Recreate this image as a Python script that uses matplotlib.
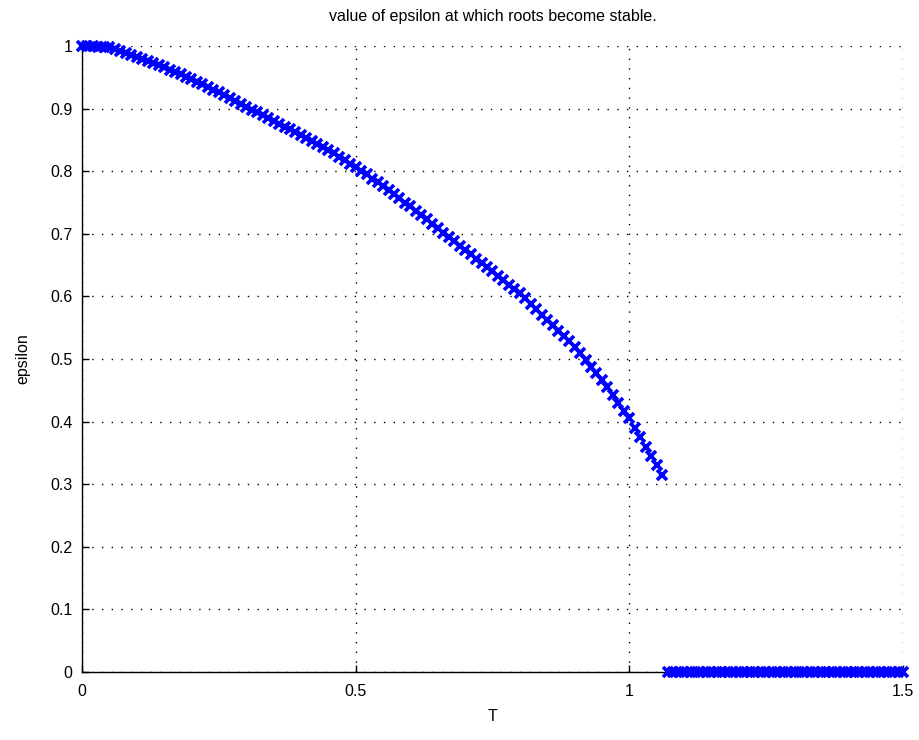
import numpy as np
import matplotlib
matplotlib.use("Agg")
import matplotlib.pyplot as plt

plt.rcParams['font.family'] = ['Liberation Sans', 'DejaVu Sans']

# Stable-root curve: T sampled every 0.01 from 0 to 1.06
T_curve = np.round(np.arange(0, 107) * 0.01, 2)
eps_curve = [
    1.000, 1.000, 1.000, 0.999, 0.999, 0.998, 0.995, 0.992, 0.989, 0.986,
    0.983, 0.980, 0.976, 0.973, 0.970, 0.966, 0.962, 0.958, 0.955, 0.951,
    0.947, 0.943, 0.939, 0.935, 0.930, 0.926, 0.921, 0.917, 0.912, 0.908,
    0.903, 0.898, 0.894, 0.889, 0.885, 0.880, 0.876, 0.871, 0.867, 0.862,
    0.858, 0.853, 0.848, 0.844, 0.839, 0.834, 0.829, 0.823, 0.818, 0.812,
    0.807, 0.801, 0.795, 0.788, 0.782, 0.776, 0.770, 0.763, 0.757, 0.750,
    0.744, 0.737, 0.730, 0.723, 0.716, 0.709, 0.702, 0.695, 0.688, 0.681,
    0.674, 0.667, 0.660, 0.654, 0.647, 0.640, 0.633, 0.626, 0.619, 0.612,
    0.605, 0.597, 0.588, 0.580, 0.571, 0.563, 0.554, 0.545, 0.537, 0.528,
    0.519, 0.509, 0.498, 0.488, 0.477, 0.467, 0.455, 0.442, 0.430, 0.417,
    0.405, 0.390, 0.375, 0.360, 0.345, 0.330, 0.315,
]
# Region with no stable epsilon: T from 1.07 to 1.50
T_zero = np.round(np.arange(107, 151) * 0.01, 2)
eps_zero = [0.0] * len(T_zero)

x_ticks = [0, 0.5, 1, 1.5]
x_ticklabels = ["0", "0.5", "1", "1.5"]
y_ticks = [0, 0.1, 0.2, 0.3, 0.4, 0.5, 0.6, 0.7, 0.8, 0.9, 1.0]
y_ticklabels = ["0", "0.1", "0.2", "0.3", "0.4", "0.5", "0.6", "0.7", "0.8", "0.9", "1"]

fig = plt.figure(figsize=(9.19, 7.40), dpi=100)
ax = fig.add_axes([82/919, 68/740, (903-82)/919, (672-46)/740])

mk = dict(linestyle='none', marker='x', color=(0, 0, 1), markersize=7.5,
          markeredgewidth=2.6, clip_on=False, zorder=3)
ax.plot(T_curve, eps_curve, **mk)
ax.plot(T_zero, eps_zero, **mk)

ax.set_xlim(0, 1.5)
ax.set_ylim(0, 1)
ax.set_xticks(x_ticks)
ax.set_xticklabels(x_ticklabels)
ax.set_yticks(y_ticks)
ax.set_yticklabels(y_ticklabels)

ax.grid(True, linestyle=(0, (1, 6)), color='black', linewidth=1.0)
ax.set_axisbelow(True)
for s in ['top', 'right']:
    ax.spines[s].set_visible(False)
for s in ['left', 'bottom']:
    ax.spines[s].set_linewidth(1.0)
ax.tick_params(direction='in', length=5, width=1.0, labelsize=11.5)
ax.tick_params(axis='x', pad=9)
ax.tick_params(axis='y', pad=7)

ax.set_xlabel("T", fontsize=11.5, labelpad=7)
ax.set_ylabel("epsilon", fontsize=11.5, labelpad=14)
ax.set_title("value of epsilon at which roots become stable.", fontsize=11.5, pad=18)

fig.savefig("out.png", dpi=100, facecolor='white')
